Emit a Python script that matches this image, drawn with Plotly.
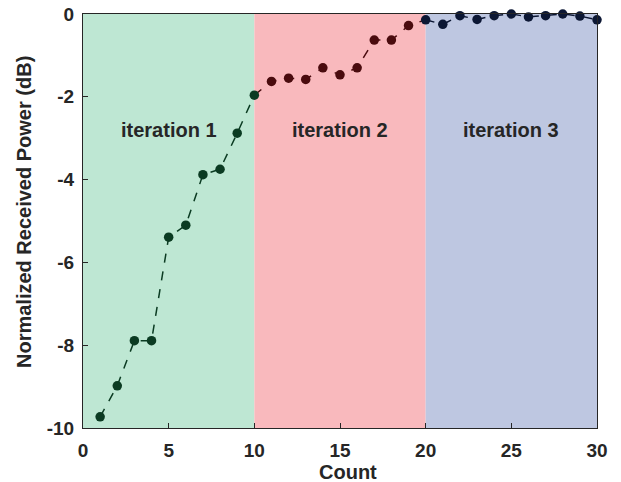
import plotly.graph_objects as go

count = list(range(1, 31))
power = [-9.73, -8.98, -7.89, -7.89, -5.39, -5.10, -3.88, -3.75, -2.88, -1.96,
         -1.63, -1.55, -1.58, -1.30, -1.47, -1.30, -0.63, -0.63, -0.28, -0.14,
         -0.25, -0.04, -0.13, -0.04, 0.00, -0.07, -0.04, 0.00, -0.05, -0.14]

iterations = ["iteration 1", "iteration 2", "iteration 3"]
iter_bounds = [(0, 10), (10, 20), (20, 30)]
region_colors = ["#BEE7D3", "#F9B9BD", "#BEC7E1"]
mark_colors = ["#0B3B22", "#4A0B0E", "#0C1734"]
label_y = -2.8

x_ticks = [0, 5, 10, 15, 20, 25, 30]
y_ticks = [-10, -8, -6, -4, -2, 0]

FONT = "Liberation Sans, Arial"
TXT = "#262626"

fig = go.Figure()

for (a, b), rc in zip(iter_bounds, region_colors):
    fig.add_shape(type="rect", x0=a, x1=b, y0=-10, y1=0, xref="x", yref="y",
                  fillcolor=rc, line_width=0, layer="below")

line_segments = [(0, 10), (9, 20), (19, 30)]
marker_segments = [(0, 10), (10, 19), (19, 30)]
for (s, e), mc in zip(line_segments, mark_colors):
    fig.add_trace(go.Scatter(
        x=count[s:e], y=power[s:e], mode="lines",
        line=dict(color=mc, width=1.5, dash="dash"),
        showlegend=False, cliponaxis=False))
for (s, e), mc in zip(marker_segments, mark_colors):
    fig.add_trace(go.Scatter(
        x=count[s:e], y=power[s:e], mode="markers",
        marker=dict(color=mc, size=9.5),
        showlegend=False, cliponaxis=False))

for name, (a, b) in zip(iterations, iter_bounds):
    fig.add_annotation(x=(a + b) / 2, y=label_y, text="<b>" + name + "</b>",
                       showarrow=False,
                       font=dict(family=FONT, size=20, color=TXT))

# axis titles (positioned as in the reference)
fig.add_annotation(xref="paper", yref="paper", x=0.5156, y=-0.106,
                   xanchor="center", yanchor="middle",
                   text="<b>Count</b>", showarrow=False,
                   font=dict(family=FONT, size=20, color=TXT))
fig.add_annotation(xref="paper", yref="paper", x=-0.1148, y=0.5217,
                   xanchor="center", yanchor="middle",
                   text="<b>Normalized Received Power (dB)</b>", showarrow=False,
                   textangle=-90,
                   font=dict(family=FONT, size=20, color=TXT))

axis_common = dict(showline=True, linecolor=TXT, linewidth=1, mirror=True,
                   ticks="inside", ticklen=5, tickcolor=TXT,
                   showgrid=False, zeroline=False, automargin=False,
                   tickfont=dict(family=FONT, size=19, color=TXT))

fig.update_xaxes(range=[0, 30], tickvals=x_ticks,
                 ticktext=["<b>%d</b>" % v for v in x_ticks],
                 ticklabelstandoff=5,
                 **axis_common)
fig.update_yaxes(range=[-10, 0], tickvals=y_ticks,
                 ticktext=["<b>%d</b>" % v for v in y_ticks],
                 ticklabelstandoff=4,
                 **axis_common)

fig.update_layout(width=621, height=482, paper_bgcolor="white", plot_bgcolor="white",
                  margin=dict(l=83, r=24, t=14, b=54))

fig.write_html("out.html")
